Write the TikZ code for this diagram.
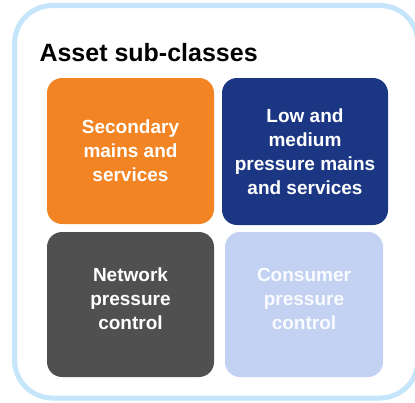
\documentclass[tikz,border=0pt]{standalone}
\usepackage{fontspec}
\setmainfont{Liberation Sans}
\definecolor{framecol}{HTML}{C5E5FB}
\definecolor{orangecol}{HTML}{F28424}
\definecolor{navycol}{HTML}{1B3784}
\definecolor{greycol}{HTML}{505050}
\definecolor{palecol}{HTML}{C3D2F2}
\tikzset{tile/.style={rounded corners=15pt, inner sep=0pt, align=center,
  text=white, font=\bfseries\fontsize{19}{24}\selectfont}}

\begin{document}
\begin{tikzpicture}[x=1pt, y=-1pt]
  \useasboundingbox (0,0) rectangle (415,402);
  \draw[framecol, line width=5pt, rounded corners=38pt] (14.5,5.5) rectangle (418,398);
  \node[anchor=west, font=\bfseries\fontsize{25}{30}\selectfont] (title) at (36,53) {Asset sub-classes};
  \node[tile, fill=orangecol, minimum width=167pt, minimum height=146pt] (secondary) at (130.5,151)
    {Secondary\\mains and\\services};
  \node[tile, fill=navycol, minimum width=166pt, minimum height=147pt] (lowmedium) at (305,151.5)
    {Low and\\medium\\pressure mains\\and services};
  \node[tile, fill=greycol, minimum width=167pt, minimum height=145pt] (network) at (130.5,304.5)
    {Network\\pressure\\control\\[-13pt]};
  \node[tile, fill=palecol, text=white!92!palecol, minimum width=158pt, minimum height=145pt] (consumer) at (304,304.5)
    {Consumer\\pressure\\control\\[-13pt]};
\end{tikzpicture}
\end{document}
